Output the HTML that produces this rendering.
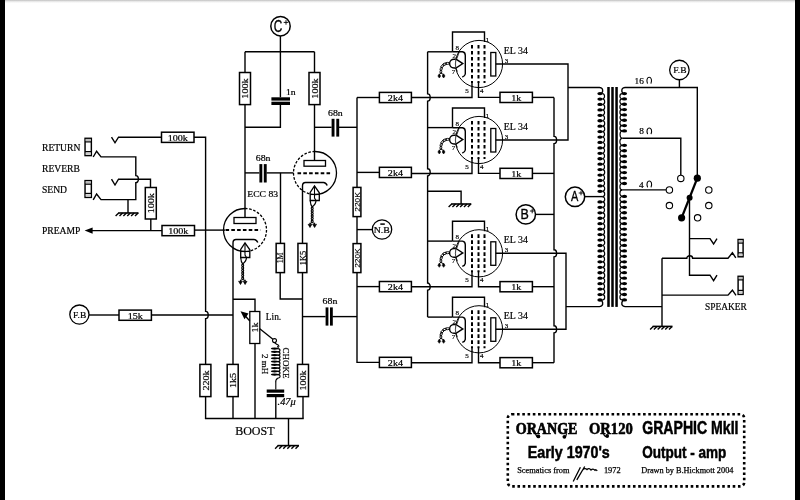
<!DOCTYPE html><html><head><meta charset="utf-8"><style>
html,body{margin:0;padding:0;background:#fff;}
body{width:800px;height:500px;overflow:hidden;position:relative;}
svg{position:absolute;left:0;top:0;will-change:transform;}
</style></head><body>
<svg width="800" height="500" viewBox="0 0 800 500">
<defs><linearGradient id="tg" x1="0" y1="0" x2="0" y2="1"><stop offset="0" stop-color="#bbb"/><stop offset="0.35" stop-color="#e2e2e2"/><stop offset="1" stop-color="#fff"/></linearGradient></defs>
<rect x="0" y="0" width="800" height="500" fill="#fff"/>
<rect x="0" y="0" width="800" height="3" fill="url(#tg)"/>
<rect x="0" y="0" width="5" height="500" fill="#000"/>
<rect x="795" y="0" width="5" height="500" fill="#000"/>
<g fill="none" stroke="#000" stroke-linecap="butt" stroke-linejoin="miter">

<rect x="85.05" y="138.30" width="6.30" height="17.30" stroke-width="1.45" fill="#fff"/>
<rect x="85.64999999999999" y="138.9" width="5.1" height="2.4" fill="#bbb" stroke="none"/>
<rect x="85.64999999999999" y="152.4" width="5.1" height="2.4" fill="#ccc" stroke="none"/>
<path d="M85.05,141.90 L91.35,141.90" stroke-width="1.2" />
<path d="M85.05,151.60 L91.35,151.60" stroke-width="1.2" />
<rect x="85.05" y="180.60" width="6.30" height="16.80" stroke-width="1.45" fill="#fff"/>
<rect x="85.64999999999999" y="181.2" width="5.1" height="2.4" fill="#bbb" stroke="none"/>
<rect x="85.64999999999999" y="194.20000000000002" width="5.1" height="2.4" fill="#ccc" stroke="none"/>
<path d="M85.05,184.20 L91.35,184.20" stroke-width="1.2" />
<path d="M85.05,193.40 L91.35,193.40" stroke-width="1.2" />
<path d="M93.2,157 L96.6,151.2 L101,156.9 L135.8,156.9 L135.8,175.6 A2.6,3.6 0 0 1 135.8,182.8 L135.8,199.6 L101,199.6 L96.6,194 L93.2,199.8" stroke-width="1.4" />
<path d="M111.5,137.2 L115,142.8 L118.5,137.2 L161.5,137.2" stroke-width="1.4" />
<rect x="161.50" y="132.20" width="32.50" height="10.20" stroke-width="1.5" fill="#fff"/>
<text x="0" y="0" stroke="#000" stroke-width="0.2" fill="#000" font-size="8.8" text-anchor="middle" font-family="Liberation Serif" transform="translate(177.75 140.60) scale(1.15,1)">100k</text>
<path d="M194,137.2 L205.6,137.2 L205.6,311.4 A2.6,3.6 0 0 1 205.6,318.6 L205.6,418.5" stroke-width="1.4" />
<path d="M111.5,179.2 L115,185 L118.5,179.2 L150.5,179.2 L150.5,187.5" stroke-width="1.4" />
<rect x="145.30" y="187.50" width="11.00" height="31.50" stroke-width="1.5" fill="#fff"/>
<text x="0" y="0" stroke="#000" stroke-width="0.2" fill="#000" font-size="8.8" text-anchor="middle" font-family="Liberation Serif" transform="translate(153.97 203.25) rotate(-90) scale(1.15,1)">100k</text>
<path d="M150.8,219 L150.8,230.6" stroke-width="1.4" />
<path d="M128,199.6 L128,213" stroke-width="1.4" />
<path d="M118.10,213.00 L138.50,213.00" stroke-width="1.6" />
<path d="M118.70,213.00 L115.60,216.10" stroke-width="1.4" />
<path d="M122.58,213.00 L119.48,216.10" stroke-width="1.4" />
<path d="M126.46,213.00 L123.36,216.10" stroke-width="1.4" />
<path d="M130.34,213.00 L127.24,216.10" stroke-width="1.4" />
<path d="M134.22,213.00 L131.12,216.10" stroke-width="1.4" />
<path d="M138.10,213.00 L135.00,216.10" stroke-width="1.4" />
<path d="M84.6,230.6 L92.6,227.4 L92.6,233.8 Z" fill="#000" stroke="none"/>
<path d="M92,230.6 L162,230.6" stroke-width="1.4" />
<rect x="162.00" y="225.50" width="32.50" height="10.20" stroke-width="1.5" fill="#fff"/>
<text x="0" y="0" stroke="#000" stroke-width="0.2" fill="#000" font-size="8.8" text-anchor="middle" font-family="Liberation Serif" transform="translate(178.25 233.90) scale(1.15,1)">100k</text>
<path d="M194.5,230.1 L225,230.1" stroke-width="1.4" />
<text x="0" y="0" stroke="#000" stroke-width="0.2" fill="#000" font-size="9.6" text-anchor="start" font-family="Liberation Serif" font-weight="normal" transform="translate(42.00 150.80)" >RETURN</text>
<text x="0" y="0" stroke="#000" stroke-width="0.2" fill="#000" font-size="9.6" text-anchor="start" font-family="Liberation Serif" font-weight="normal" transform="translate(42.00 171.60)" >REVERB</text>
<text x="0" y="0" stroke="#000" stroke-width="0.2" fill="#000" font-size="9.6" text-anchor="start" font-family="Liberation Serif" font-weight="normal" transform="translate(42.00 192.70)" >SEND</text>
<text x="0" y="0" stroke="#000" stroke-width="0.2" fill="#000" font-size="9.6" text-anchor="start" font-family="Liberation Serif" font-weight="normal" transform="translate(42.00 234.40)" >PREAMP</text>
<circle cx="280.50" cy="26.20" r="9.70" stroke-width="1.5" fill="#fff"/>
<text x="0" y="0" stroke="#000" stroke-width="0.35" fill="#000" font-size="16" font-family="Liberation Sans" text-anchor="middle" transform="translate(277.9 31.5) scale(0.74,1)">C</text>
<path d="M283.7,22.4 L288.3,22.4 M286,20.099999999999998 L286,24.7" stroke-width="0.9" />
<path d="M280.4,36 L280.4,97.3" stroke-width="1.4" />
<path d="M245,51.8 L314.5,51.8" stroke-width="1.4" />
<path d="M245,51.8 L245,72.5" stroke-width="1.4" />
<rect x="239.50" y="72.50" width="11.00" height="32.10" stroke-width="1.5" fill="#fff"/>
<text x="0" y="0" stroke="#000" stroke-width="0.2" fill="#000" font-size="8.8" text-anchor="middle" font-family="Liberation Serif" transform="translate(248.17 88.55) rotate(-90) scale(1.15,1)">100k</text>
<path d="M245,104.6 L245,217.5" stroke-width="1.4" />
<path d="M314.5,51.8 L314.5,72.5" stroke-width="1.4" />
<rect x="309.00" y="72.50" width="11.00" height="32.10" stroke-width="1.5" fill="#fff"/>
<text x="0" y="0" stroke="#000" stroke-width="0.2" fill="#000" font-size="8.8" text-anchor="middle" font-family="Liberation Serif" transform="translate(317.67 88.55) rotate(-90) scale(1.15,1)">100k</text>
<path d="M314.5,104.6 L314.5,160.5" stroke-width="1.4" />
<rect x="271.4" y="97.3" width="18.6" height="3.3" fill="#000" stroke="none"/>
<rect x="271.4" y="101.7" width="18.6" height="3.3" fill="#000" stroke="none"/>
<path d="M280.4,105 L280.4,127.3 L245,127.3" stroke-width="1.4" />
<text x="0" y="0" stroke="#000" stroke-width="0.2" fill="#000" font-size="8.8" text-anchor="start" font-family="Liberation Serif" font-weight="normal" transform="translate(286.00 95.00) scale(1.1,1)" >1n</text>
<path d="M314.5,127.3 L331.6,127.3" stroke-width="1.4" />
<rect x="331.6" y="118.8" width="2.9" height="17.8" fill="#000" stroke="none"/>
<rect x="336.3" y="118.8" width="2.9" height="17.8" fill="#000" stroke="none"/>
<path d="M338.9,127.3 L357,127.3" stroke-width="1.4" />
<text x="0" y="0" stroke="#000" stroke-width="0.2" fill="#000" font-size="8.8" text-anchor="middle" font-family="Liberation Serif" font-weight="normal" transform="translate(335.40 115.60) scale(1.12,1)" >68n</text>
<path d="M245,172.9 L259.4,172.9" stroke-width="1.4" />
<rect x="259.4" y="164.1" width="2.9" height="18.4" fill="#000" stroke="none"/>
<rect x="263.8" y="164.1" width="2.9" height="18.4" fill="#000" stroke="none"/>
<path d="M266.5,172.9 L293.5,172.9" stroke-width="1.4" />
<text x="0" y="0" stroke="#000" stroke-width="0.2" fill="#000" font-size="8.8" text-anchor="middle" font-family="Liberation Serif" font-weight="normal" transform="translate(263.10 161.00) scale(1.12,1)" >68n</text>
<text x="0" y="0" stroke="#000" stroke-width="0.2" fill="#000" font-size="9" text-anchor="start" font-family="Liberation Serif" font-weight="normal" transform="translate(247.30 196.50) scale(1.07,1)" >ECC 83</text>
<path d="M280.5,172.9 L280.5,243.4" stroke-width="1.4" />
<rect x="276.15" y="243.40" width="8.30" height="29.20" stroke-width="1.5" fill="#fff"/>
<text x="0" y="0" stroke="#000" stroke-width="0.2" fill="#000" font-size="8.6" text-anchor="middle" font-family="Liberation Serif" transform="translate(283.40 258.00) rotate(-90) scale(0.9,1)">1M</text>
<path d="M280.2,272.6 L280.2,299 L302.6,299" stroke-width="1.4" />
<path d="M245,208.5 A21.5,21.5 0 0 0 245,251.5" stroke-width="1.3" />
<path d="M245,208.5 A21.5,21.5 0 0 1 245,251.5" stroke-width="1.3" stroke-dasharray="2.6,1.6"/>
<path d="M315,151.5 A21.5,21.5 0 0 1 315,194.5" stroke-width="1.3" />
<path d="M315,151.5 A21.5,21.5 0 0 0 315,194.5" stroke-width="1.3" stroke-dasharray="2.6,1.6"/>
<rect x="234.00" y="217.50" width="22.00" height="6.00" stroke-width="1.3" fill="#fff"/>
<path d="M225.5,229.9 L260.5,229.9" stroke-width="2.0" stroke-dasharray="3.6,2.2"/>
<path d="M257.8,242.6 Q256.5,239.5 254,239.5 L236,239.5 Q233,239.5 233,243 L233,418.5" stroke-width="1.4" />
<rect x="304.00" y="160.50" width="21.50" height="5.70" stroke-width="1.3" fill="#fff"/>
<path d="M297.5,173.2 L331,173.2" stroke-width="2.0" stroke-dasharray="3.6,2.2"/>
<path d="M327.2,185.6 Q326,182.5 323.5,182.5 L305.5,182.5 Q302.5,182.5 302.5,186 L302.5,243.4" stroke-width="1.4" />
<rect x="297.95" y="243.40" width="8.90" height="29.20" stroke-width="1.5" fill="#fff"/>
<text x="0" y="0" stroke="#000" stroke-width="0.2" fill="#000" font-size="8.6" text-anchor="middle" font-family="Liberation Serif" transform="translate(305.50 258.00) rotate(-90) scale(0.97,1)">1K5</text>
<path d="M302.5,272.6 L302.5,364.4" stroke-width="1.4" />
<rect x="297.50" y="364.40" width="11.00" height="32.20" stroke-width="1.5" fill="#fff"/>
<text x="0" y="0" stroke="#000" stroke-width="0.2" fill="#000" font-size="8.8" text-anchor="middle" font-family="Liberation Serif" transform="translate(306.17 380.50) rotate(-90) scale(1.15,1)">100k</text>
<path d="M303,396.6 L303,418.5" stroke-width="1.4" />
<path d="M240.7,257.5 L240.7,249.5 L245,243 L249.8,249.8 L249.8,257.5 Z" stroke-width="1.3" />
<path d="M245,243.5 L245,255 L246.5,257.5" stroke-width="1.1" />
<path d="M240.7,251.5 L249.8,251.5" stroke-width="1.1" />
<path d="M240.7,257.5 Q241,262 242.7,264 Q246.5,261 246.5,257.5" stroke-width="1.2" />
<path d="M242.7,264 Q240.7,265.29 242.7,266.58 Q240.7,267.88 242.7,269.17 Q240.7,270.46 242.7,271.75 Q240.7,273.04 242.7,274.33 Q240.7,275.62 242.7,276.92 Q240.7,278.21 242.7,279.50" stroke-width="1.1" />
<path d="M242.7,264 Q244.7,265.29 242.7,266.58 Q244.7,267.88 242.7,269.17 Q244.7,270.46 242.7,271.75 Q244.7,273.04 242.7,274.33 Q244.7,275.62 242.7,276.92 Q244.7,278.21 242.7,279.50" stroke-width="1.1" />
<path d="M240.50,284.5 L238.60,281.2 L239.90,281.8 L240.50,279.8 L241.10,281.8 L242.40,281.2 Z" fill="#000" stroke="#000" stroke-width="0.7"/>
<path d="M245.10,284.5 L243.20,281.2 L244.50,281.8 L245.10,279.8 L245.70,281.8 L247.00,281.2 Z" fill="#000" stroke="#000" stroke-width="0.7"/>
<path d="M242.7,279.5 L240.5,280.5 M242.7,279.5 L245.1,280.5" stroke-width="1.0" />
<path d="M310.2,200.5 L310.2,192.5 L314.5,186 L319.3,192.8 L319.3,200.5 Z" stroke-width="1.3" />
<path d="M314.5,186.5 L314.5,198 L316.0,200.5" stroke-width="1.1" />
<path d="M310.2,194.5 L319.3,194.5" stroke-width="1.1" />
<path d="M310.2,200.5 Q310.5,205 312.2,207 Q316.0,204 316.0,200.5" stroke-width="1.2" />
<path d="M312.2,207 Q310.2,208.29 312.2,209.58 Q310.2,210.88 312.2,212.17 Q310.2,213.46 312.2,214.75 Q310.2,216.04 312.2,217.33 Q310.2,218.62 312.2,219.92 Q310.2,221.21 312.2,222.50" stroke-width="1.1" />
<path d="M312.2,207 Q314.2,208.29 312.2,209.58 Q314.2,210.88 312.2,212.17 Q314.2,213.46 312.2,214.75 Q314.2,216.04 312.2,217.33 Q314.2,218.62 312.2,219.92 Q314.2,221.21 312.2,222.50" stroke-width="1.1" />
<path d="M310.00,227.5 L308.10,224.2 L309.40,224.8 L310.00,222.8 L310.60,224.8 L311.90,224.2 Z" fill="#000" stroke="#000" stroke-width="0.7"/>
<path d="M314.60,227.5 L312.70,224.2 L314.00,224.8 L314.60,222.8 L315.20,224.8 L316.50,224.2 Z" fill="#000" stroke="#000" stroke-width="0.7"/>
<path d="M312.2,222.5 L310.0,223.5 M312.2,222.5 L314.6,223.5" stroke-width="1.0" />
<circle cx="79.40" cy="314.60" r="9.60" stroke-width="1.3" fill="#fff"/>
<text x="0" y="0" stroke="#000" stroke-width="0.2" fill="#000" font-size="8.8" text-anchor="middle" font-family="Liberation Serif" font-weight="normal" transform="translate(79.60 317.60) scale(1.08,1)" >F.B</text>
<path d="M89,315 L119,315" stroke-width="1.4" />
<rect x="119.00" y="310.10" width="32.40" height="10.20" stroke-width="1.5" fill="#fff"/>
<text x="0" y="0" stroke="#000" stroke-width="0.2" fill="#000" font-size="8.8" text-anchor="middle" font-family="Liberation Serif" transform="translate(135.20 318.50) scale(1.15,1)">15k</text>
<path d="M151.4,315 L233,315" stroke-width="1.4" />
<path d="M233,299.2 L255,299.2 L255,311.5" stroke-width="1.4" />
<rect x="249.80" y="311.50" width="10.00" height="32.00" stroke-width="1.3" fill="#fff"/>
<text x="0" y="0" stroke="#000" stroke-width="0.2" fill="#000" font-size="8.8" text-anchor="middle" font-family="Liberation Serif" transform="translate(258.1 327.5) rotate(-90) scale(1.15,1)">1k</text>
<path d="M255,343.5 L255,418.5" stroke-width="1.4" />
<path d="M249.8,321 L244,314.5" stroke-width="1.3" />
<path d="M240.5,311.2 L248.5,313.6 L244.5,319.3 Z" fill="#000" stroke="none"/>
<path d="M259.8,328.7 L272.9,339.3" stroke-width="1.3" />
<circle cx="274.50" cy="340.60" r="2.00" stroke-width="1.1" fill="#fff"/>
<text x="0" y="0" stroke="#000" stroke-width="0.2" fill="#000" font-size="9.4" text-anchor="start" font-family="Liberation Serif" font-weight="normal" transform="translate(265.80 319.50)" >Lin.</text>
<path d="M274.6,342.6 Q276,344 278.5,345.2 L279,346.8 M277.4,348.60 A2.6,1.62 0 0 1 277.4,351.85 M277.4,351.85 A2.6,1.62 0 0 1 277.4,355.10 M277.4,355.10 A2.6,1.62 0 0 1 277.4,358.35 M277.4,358.35 A2.6,1.62 0 0 1 277.4,361.60 M277.4,361.60 A2.6,1.62 0 0 1 277.4,364.85 M277.4,364.85 A2.6,1.62 0 0 1 277.4,368.10 M277.4,368.10 A2.6,1.62 0 0 1 277.4,371.35 M277.4,371.35 A2.6,1.62 0 0 1 277.4,374.60 " stroke-width="1.1" />
<path d="M277.2,346.2 A2.4,1.5 0 0 1 277.4,348.6" stroke-width="1.1" />
<ellipse cx="274.6" cy="348.60" rx="3.7" ry="1.15" fill="#000" stroke="none"/>
<ellipse cx="274.6" cy="351.85" rx="3.7" ry="1.15" fill="#000" stroke="none"/>
<ellipse cx="274.6" cy="355.10" rx="3.7" ry="1.15" fill="#000" stroke="none"/>
<ellipse cx="274.6" cy="358.35" rx="3.7" ry="1.15" fill="#000" stroke="none"/>
<ellipse cx="274.6" cy="361.60" rx="3.7" ry="1.15" fill="#000" stroke="none"/>
<ellipse cx="274.6" cy="364.85" rx="3.7" ry="1.15" fill="#000" stroke="none"/>
<ellipse cx="274.6" cy="368.10" rx="3.7" ry="1.15" fill="#000" stroke="none"/>
<ellipse cx="274.6" cy="371.35" rx="3.7" ry="1.15" fill="#000" stroke="none"/>
<ellipse cx="274.6" cy="374.60" rx="3.7" ry="1.15" fill="#000" stroke="none"/>
<path d="M277.4,374.6 A2.6,1.8 0 0 1 277.6,378.2 Q275.2,380 275.8,383 L275.8,389.6" stroke-width="1.1" />
<rect x="266.7" y="389.5" width="17.5" height="3.2" fill="#000" stroke="none"/>
<rect x="266.7" y="394" width="17.5" height="3.2" fill="#000" stroke="none"/>
<path d="M275.8,397 L275.8,418.5" stroke-width="1.4" />
<text x="0" y="0" stroke="#000" stroke-width="0.2" fill="#000" font-size="9" text-anchor="middle" font-family="Liberation Serif" transform="translate(283.3 363) rotate(90)">CHOKE</text>
<text x="0" y="0" stroke="#000" stroke-width="0.2" fill="#000" font-size="9" text-anchor="middle" font-family="Liberation Serif" transform="translate(262 364) rotate(90)">2 mH</text>
<text x="0" y="0" fill="#000" font-size="9.6" text-anchor="start" font-family="Liberation Serif" font-weight="normal" transform="translate(277.60 405.40) scale(1.08,1)" font-style="italic" stroke="#000" stroke-width="0.2">.47&#956;</text>
<path d="M205.6,364.4 L205.6,364.4" stroke-width="1.4" />
<rect x="199.90" y="364.40" width="11.00" height="32.20" stroke-width="1.5" fill="#fff"/>
<text x="0" y="0" stroke="#000" stroke-width="0.2" fill="#000" font-size="8.8" text-anchor="middle" font-family="Liberation Serif" transform="translate(208.57 380.50) rotate(-90) scale(1.15,1)">220k</text>
<rect x="227.20" y="364.40" width="11.00" height="32.20" stroke-width="1.5" fill="#fff"/>
<text x="0" y="0" stroke="#000" stroke-width="0.2" fill="#000" font-size="8.8" text-anchor="middle" font-family="Liberation Serif" transform="translate(235.87 380.50) rotate(-90) scale(1.15,1)">1k5</text>
<path d="M204.9,418.5 L303.7,418.5" stroke-width="1.4" />
<path d="M288.5,418.5 L288.5,445.6" stroke-width="1.4" />
<path d="M277.60,445.60 L299.00,445.60" stroke-width="1.6" />
<path d="M278.20,445.60 L275.10,448.70" stroke-width="1.4" />
<path d="M282.28,445.60 L279.18,448.70" stroke-width="1.4" />
<path d="M286.36,445.60 L283.26,448.70" stroke-width="1.4" />
<path d="M290.44,445.60 L287.34,448.70" stroke-width="1.4" />
<path d="M294.52,445.60 L291.42,448.70" stroke-width="1.4" />
<path d="M298.60,445.60 L295.50,448.70" stroke-width="1.4" />
<text x="0" y="0" stroke="#000" stroke-width="0.2" fill="#000" font-size="12" text-anchor="start" font-family="Liberation Serif" font-weight="normal" transform="translate(235.20 434.80)" >BOOST</text>
<path d="M357,97.5 L357,187.4" stroke-width="1.4" />
<rect x="353.10" y="187.40" width="7.80" height="29.20" stroke-width="1.5" fill="#fff"/>
<text x="0" y="0" stroke="#000" stroke-width="0.1" fill="#000" font-size="7.2" text-anchor="middle" font-family="Liberation Sans" transform="translate(359.60 202.00) rotate(-90) scale(1.16,1)">220K</text>
<path d="M357,216.6 L357,243.6" stroke-width="1.4" />
<rect x="353.10" y="243.60" width="7.80" height="29.00" stroke-width="1.5" fill="#fff"/>
<text x="0" y="0" stroke="#000" stroke-width="0.1" fill="#000" font-size="7.2" text-anchor="middle" font-family="Liberation Sans" transform="translate(359.60 258.10) rotate(-90) scale(1.16,1)">220K</text>
<path d="M357,272.6 L357,362.4 L379.4,362.4" stroke-width="1.4" />
<path d="M357,97.5 L379.4,97.5" stroke-width="1.4" />
<path d="M357,172.4 L379.4,172.4" stroke-width="1.4" />
<path d="M357,286.6 L379.4,286.6" stroke-width="1.4" />
<path d="M332.4,316.6 L357,316.6" stroke-width="1.4" />
<path d="M302.5,316.6 L325.6,316.6" stroke-width="1.4" />
<rect x="325.6" y="307.4" width="2.8" height="18.2" fill="#000" stroke="none"/>
<rect x="330" y="307.4" width="2.8" height="18.2" fill="#000" stroke="none"/>
<text x="0" y="0" stroke="#000" stroke-width="0.2" fill="#000" font-size="8.8" text-anchor="middle" font-family="Liberation Serif" font-weight="normal" transform="translate(330.00 304.40) scale(1.12,1)" >68n</text>
<path d="M357,229.6 L372.4,229.6" stroke-width="1.4" />
<circle cx="382.00" cy="229.50" r="9.70" stroke-width="1.3" fill="#fff"/>
<text x="0" y="0" stroke="#000" stroke-width="0.2" fill="#000" font-size="8.6" text-anchor="middle" font-family="Liberation Serif" font-weight="normal" transform="translate(381.80 232.80) scale(1.15,1)" >N.B</text>
<path d="M380.3,224.1 L384.8,224.1" stroke-width="1.5" />
<rect x="379.40" y="92.40" width="32.00" height="10.20" stroke-width="1.5" fill="#fff"/>
<text x="0" y="0" stroke="#000" stroke-width="0.2" fill="#000" font-size="8.8" text-anchor="middle" font-family="Liberation Serif" transform="translate(395.40 100.80) scale(1.15,1)">2k4</text>
<rect x="379.40" y="167.30" width="32.00" height="10.20" stroke-width="1.5" fill="#fff"/>
<text x="0" y="0" stroke="#000" stroke-width="0.2" fill="#000" font-size="8.8" text-anchor="middle" font-family="Liberation Serif" transform="translate(395.40 175.70) scale(1.15,1)">2k4</text>
<rect x="379.40" y="281.50" width="32.00" height="10.20" stroke-width="1.5" fill="#fff"/>
<text x="0" y="0" stroke="#000" stroke-width="0.2" fill="#000" font-size="8.8" text-anchor="middle" font-family="Liberation Serif" transform="translate(395.40 289.90) scale(1.15,1)">2k4</text>
<rect x="379.40" y="357.30" width="32.00" height="10.20" stroke-width="1.5" fill="#fff"/>
<text x="0" y="0" stroke="#000" stroke-width="0.2" fill="#000" font-size="8.8" text-anchor="middle" font-family="Liberation Serif" transform="translate(395.40 365.70) scale(1.15,1)">2k4</text>
<circle cx="479.00" cy="64.00" r="23.60" stroke-width="1.0" fill="none"/>
<path d="M484.5,42 L484.5,32 L452.5,32 L452.5,51.8" stroke-width="1.4" />
<path d="M452.5,51.8 L462.5,51.8 Q465.3,52.2 465.3,55.5 L465.3,74 Q465,76 462.3,77" stroke-width="1.4" />
<path d="M472,45 L472,83" stroke-width="2.0" stroke-dasharray="3.6,2.4"/>
<path d="M478.5,45 L478.5,83" stroke-width="2.0" stroke-dasharray="3.6,2.4"/>
<path d="M484.5,45 L484.5,83" stroke-width="2.0" stroke-dasharray="3.6,2.4"/>
<path d="M472,82 L472,97.5 L411.4,97.5" stroke-width="1.4" />
<path d="M478.5,82 L478.5,97.4 L500,97.4" stroke-width="1.4" />
<rect x="490.80" y="52.50" width="5.00" height="23.50" stroke-width="1.3" fill="#fff"/>
<path d="M456,59.2 L462.8,63.6 L456,68 L454,68 A4.4,4.4 0 0 1 454,59.2 Z" stroke-width="1.4" />
<path d="M455.6,59.4 L455.6,67.8" stroke-width="0.7" stroke="#777"/>
<path d="M456.8,58.8 L459.2,52" stroke-width="0.8" />
<path d="M456,68.2 L457.4,71.5" stroke-width="0.8" />
<ellipse cx="0" cy="0" rx="2.0" ry="1.0" stroke-width="0.9" transform="translate(447.4 63.4) rotate(-5)"/>
<ellipse cx="0" cy="0" rx="2.0" ry="1.0" stroke-width="0.9" transform="translate(444.6 64.2) rotate(-20)"/>
<ellipse cx="0" cy="0" rx="1.9" ry="1.0" stroke-width="0.9" transform="translate(442.3 66.2) rotate(-45)"/>
<ellipse cx="0" cy="0" rx="1.8" ry="0.95" stroke-width="0.9" transform="translate(441.2 68.9) rotate(-70)"/>
<ellipse cx="0" cy="0" rx="1.7" ry="0.9" stroke-width="0.9" transform="translate(440.9 71.7) rotate(-85)"/>
<path d="M440.9,73 L439.3,74.5 M440.9,73 L443.4,74.5" stroke-width="1.0" />
<path d="M439.3,73.8 L437.9,76 L439.3,78 L440.6,76 Z" fill="#000" stroke="#000" stroke-width="0.6"/>
<path d="M443.6,73.8 L442.2,76 L443.6,78 L445,76 Z" fill="#000" stroke="#000" stroke-width="0.6"/>
<text x="0" y="0" stroke="#000" stroke-width="0.2" fill="#000" font-size="7" text-anchor="middle" font-family="Liberation Serif" font-weight="normal" transform="translate(487.50 41.50)" >1</text>
<text x="0" y="0" stroke="#000" stroke-width="0.2" fill="#000" font-size="7" text-anchor="middle" font-family="Liberation Serif" font-weight="normal" transform="translate(457.20 49.80)" >8</text>
<text x="0" y="0" stroke="#000" stroke-width="0.2" fill="#000" font-size="7" text-anchor="middle" font-family="Liberation Serif" font-weight="normal" transform="translate(454.20 58.20)" >2</text>
<text x="0" y="0" stroke="#000" stroke-width="0.2" fill="#000" font-size="7" text-anchor="middle" font-family="Liberation Serif" font-weight="normal" transform="translate(453.40 73.80)" >7</text>
<text x="0" y="0" stroke="#000" stroke-width="0.2" fill="#000" font-size="7" text-anchor="middle" font-family="Liberation Serif" font-weight="normal" transform="translate(506.50 62.50)" >3</text>
<text x="0" y="0" stroke="#000" stroke-width="0.2" fill="#000" font-size="7" text-anchor="middle" font-family="Liberation Serif" font-weight="normal" transform="translate(467.00 92.50)" >5</text>
<text x="0" y="0" stroke="#000" stroke-width="0.2" fill="#000" font-size="7" text-anchor="middle" font-family="Liberation Serif" font-weight="normal" transform="translate(481.80 93.00)" >4</text>
<text x="0" y="0" stroke="#000" stroke-width="0.2" fill="#000" font-size="9.9" text-anchor="start" font-family="Liberation Serif" font-weight="normal" transform="translate(503.80 53.60)" >EL 34</text>
<rect x="500.00" y="92.30" width="32.40" height="10.20" stroke-width="1.5" fill="#fff"/>
<text x="0" y="0" stroke="#000" stroke-width="0.2" fill="#000" font-size="8.8" text-anchor="middle" font-family="Liberation Serif" transform="translate(516.20 100.70) scale(1.15,1)">1k</text>
<path d="M532.4,97.4 L554,97.4" stroke-width="1.4" />
<circle cx="479.00" cy="140.00" r="23.60" stroke-width="1.0" fill="none"/>
<path d="M484.5,118 L484.5,108 L452.5,108 L452.5,127.8" stroke-width="1.4" />
<path d="M452.5,127.8 L462.5,127.8 Q465.3,128.2 465.3,131.5 L465.3,150 Q465,152 462.3,153" stroke-width="1.4" />
<path d="M472,121 L472,159" stroke-width="2.0" stroke-dasharray="3.6,2.4"/>
<path d="M478.5,121 L478.5,159" stroke-width="2.0" stroke-dasharray="3.6,2.4"/>
<path d="M484.5,121 L484.5,159" stroke-width="2.0" stroke-dasharray="3.6,2.4"/>
<path d="M472,158 L472,173.5 L411.4,173.5" stroke-width="1.4" />
<path d="M478.5,158 L478.5,173.4 L500,173.4" stroke-width="1.4" />
<rect x="490.80" y="128.50" width="5.00" height="23.50" stroke-width="1.3" fill="#fff"/>
<path d="M456,135.2 L462.8,139.6 L456,144 L454,144 A4.4,4.4 0 0 1 454,135.2 Z" stroke-width="1.4" />
<path d="M455.6,135.4 L455.6,143.8" stroke-width="0.7" stroke="#777"/>
<path d="M456.8,134.8 L459.2,128" stroke-width="0.8" />
<path d="M456,144.2 L457.4,147.5" stroke-width="0.8" />
<ellipse cx="0" cy="0" rx="2.0" ry="1.0" stroke-width="0.9" transform="translate(447.4 139.4) rotate(-5)"/>
<ellipse cx="0" cy="0" rx="2.0" ry="1.0" stroke-width="0.9" transform="translate(444.6 140.2) rotate(-20)"/>
<ellipse cx="0" cy="0" rx="1.9" ry="1.0" stroke-width="0.9" transform="translate(442.3 142.2) rotate(-45)"/>
<ellipse cx="0" cy="0" rx="1.8" ry="0.95" stroke-width="0.9" transform="translate(441.2 144.9) rotate(-70)"/>
<ellipse cx="0" cy="0" rx="1.7" ry="0.9" stroke-width="0.9" transform="translate(440.9 147.7) rotate(-85)"/>
<path d="M440.9,149 L439.3,150.5 M440.9,149 L443.4,150.5" stroke-width="1.0" />
<path d="M439.3,149.8 L437.9,152 L439.3,154 L440.6,152 Z" fill="#000" stroke="#000" stroke-width="0.6"/>
<path d="M443.6,149.8 L442.2,152 L443.6,154 L445,152 Z" fill="#000" stroke="#000" stroke-width="0.6"/>
<text x="0" y="0" stroke="#000" stroke-width="0.2" fill="#000" font-size="7" text-anchor="middle" font-family="Liberation Serif" font-weight="normal" transform="translate(487.50 117.50)" >1</text>
<text x="0" y="0" stroke="#000" stroke-width="0.2" fill="#000" font-size="7" text-anchor="middle" font-family="Liberation Serif" font-weight="normal" transform="translate(457.20 125.80)" >8</text>
<text x="0" y="0" stroke="#000" stroke-width="0.2" fill="#000" font-size="7" text-anchor="middle" font-family="Liberation Serif" font-weight="normal" transform="translate(454.20 134.20)" >2</text>
<text x="0" y="0" stroke="#000" stroke-width="0.2" fill="#000" font-size="7" text-anchor="middle" font-family="Liberation Serif" font-weight="normal" transform="translate(453.40 149.80)" >7</text>
<text x="0" y="0" stroke="#000" stroke-width="0.2" fill="#000" font-size="7" text-anchor="middle" font-family="Liberation Serif" font-weight="normal" transform="translate(506.50 138.50)" >3</text>
<text x="0" y="0" stroke="#000" stroke-width="0.2" fill="#000" font-size="7" text-anchor="middle" font-family="Liberation Serif" font-weight="normal" transform="translate(467.00 168.50)" >5</text>
<text x="0" y="0" stroke="#000" stroke-width="0.2" fill="#000" font-size="7" text-anchor="middle" font-family="Liberation Serif" font-weight="normal" transform="translate(481.80 169.00)" >4</text>
<text x="0" y="0" stroke="#000" stroke-width="0.2" fill="#000" font-size="9.9" text-anchor="start" font-family="Liberation Serif" font-weight="normal" transform="translate(503.80 129.60)" >EL 34</text>
<rect x="500.00" y="168.30" width="32.40" height="10.20" stroke-width="1.5" fill="#fff"/>
<text x="0" y="0" stroke="#000" stroke-width="0.2" fill="#000" font-size="8.8" text-anchor="middle" font-family="Liberation Serif" transform="translate(516.20 176.70) scale(1.15,1)">1k</text>
<path d="M532.4,173.4 L554,173.4" stroke-width="1.4" />
<circle cx="479.00" cy="253.30" r="23.60" stroke-width="1.0" fill="none"/>
<path d="M484.5,231.3 L484.5,221.3 L452.5,221.3 L452.5,241.10000000000002" stroke-width="1.4" />
<path d="M452.5,241.10000000000002 L462.5,241.10000000000002 Q465.3,241.5 465.3,244.8 L465.3,263.3 Q465,265.3 462.3,266.3" stroke-width="1.4" />
<path d="M472,234.3 L472,272.3" stroke-width="2.0" stroke-dasharray="3.6,2.4"/>
<path d="M478.5,234.3 L478.5,272.3" stroke-width="2.0" stroke-dasharray="3.6,2.4"/>
<path d="M484.5,234.3 L484.5,272.3" stroke-width="2.0" stroke-dasharray="3.6,2.4"/>
<path d="M472,271.3 L472,286.8 L411.4,286.8" stroke-width="1.4" />
<path d="M478.5,271.3 L478.5,286.70000000000005 L500,286.70000000000005" stroke-width="1.4" />
<rect x="490.80" y="241.80" width="5.00" height="23.50" stroke-width="1.3" fill="#fff"/>
<path d="M456,248.5 L462.8,252.9 L456,257.3 L454,257.3 A4.4,4.4 0 0 1 454,248.5 Z" stroke-width="1.4" />
<path d="M455.6,248.70000000000002 L455.6,257.1" stroke-width="0.7" stroke="#777"/>
<path d="M456.8,248.10000000000002 L459.2,241.3" stroke-width="0.8" />
<path d="M456,257.5 L457.4,260.8" stroke-width="0.8" />
<ellipse cx="0" cy="0" rx="2.0" ry="1.0" stroke-width="0.9" transform="translate(447.4 252.70000000000002) rotate(-5)"/>
<ellipse cx="0" cy="0" rx="2.0" ry="1.0" stroke-width="0.9" transform="translate(444.6 253.5) rotate(-20)"/>
<ellipse cx="0" cy="0" rx="1.9" ry="1.0" stroke-width="0.9" transform="translate(442.3 255.5) rotate(-45)"/>
<ellipse cx="0" cy="0" rx="1.8" ry="0.95" stroke-width="0.9" transform="translate(441.2 258.20000000000005) rotate(-70)"/>
<ellipse cx="0" cy="0" rx="1.7" ry="0.9" stroke-width="0.9" transform="translate(440.9 261.0) rotate(-85)"/>
<path d="M440.9,262.3 L439.3,263.8 M440.9,262.3 L443.4,263.8" stroke-width="1.0" />
<path d="M439.3,263.1 L437.9,265.3 L439.3,267.3 L440.6,265.3 Z" fill="#000" stroke="#000" stroke-width="0.6"/>
<path d="M443.6,263.1 L442.2,265.3 L443.6,267.3 L445,265.3 Z" fill="#000" stroke="#000" stroke-width="0.6"/>
<text x="0" y="0" stroke="#000" stroke-width="0.2" fill="#000" font-size="7" text-anchor="middle" font-family="Liberation Serif" font-weight="normal" transform="translate(487.50 230.80)" >1</text>
<text x="0" y="0" stroke="#000" stroke-width="0.2" fill="#000" font-size="7" text-anchor="middle" font-family="Liberation Serif" font-weight="normal" transform="translate(457.20 239.10)" >8</text>
<text x="0" y="0" stroke="#000" stroke-width="0.2" fill="#000" font-size="7" text-anchor="middle" font-family="Liberation Serif" font-weight="normal" transform="translate(454.20 247.50)" >2</text>
<text x="0" y="0" stroke="#000" stroke-width="0.2" fill="#000" font-size="7" text-anchor="middle" font-family="Liberation Serif" font-weight="normal" transform="translate(453.40 263.10)" >7</text>
<text x="0" y="0" stroke="#000" stroke-width="0.2" fill="#000" font-size="7" text-anchor="middle" font-family="Liberation Serif" font-weight="normal" transform="translate(506.50 251.80)" >3</text>
<text x="0" y="0" stroke="#000" stroke-width="0.2" fill="#000" font-size="7" text-anchor="middle" font-family="Liberation Serif" font-weight="normal" transform="translate(467.00 281.80)" >5</text>
<text x="0" y="0" stroke="#000" stroke-width="0.2" fill="#000" font-size="7" text-anchor="middle" font-family="Liberation Serif" font-weight="normal" transform="translate(481.80 282.30)" >4</text>
<text x="0" y="0" stroke="#000" stroke-width="0.2" fill="#000" font-size="9.9" text-anchor="start" font-family="Liberation Serif" font-weight="normal" transform="translate(503.80 242.90)" >EL 34</text>
<rect x="500.00" y="281.60" width="32.40" height="10.20" stroke-width="1.5" fill="#fff"/>
<text x="0" y="0" stroke="#000" stroke-width="0.2" fill="#000" font-size="8.8" text-anchor="middle" font-family="Liberation Serif" transform="translate(516.20 290.00) scale(1.15,1)">1k</text>
<path d="M532.4,286.70000000000005 L554,286.70000000000005" stroke-width="1.4" />
<circle cx="479.00" cy="329.30" r="23.60" stroke-width="1.0" fill="none"/>
<path d="M484.5,307.3 L484.5,297.3 L452.5,297.3 L452.5,317.1" stroke-width="1.4" />
<path d="M452.5,317.1 L462.5,317.1 Q465.3,317.5 465.3,320.8 L465.3,339.3 Q465,341.3 462.3,342.3" stroke-width="1.4" />
<path d="M472,310.3 L472,348.3" stroke-width="2.0" stroke-dasharray="3.6,2.4"/>
<path d="M478.5,310.3 L478.5,348.3" stroke-width="2.0" stroke-dasharray="3.6,2.4"/>
<path d="M484.5,310.3 L484.5,348.3" stroke-width="2.0" stroke-dasharray="3.6,2.4"/>
<path d="M472,347.3 L472,362.8 L411.4,362.8" stroke-width="1.4" />
<path d="M478.5,347.3 L478.5,362.70000000000005 L500,362.70000000000005" stroke-width="1.4" />
<rect x="490.80" y="317.80" width="5.00" height="23.50" stroke-width="1.3" fill="#fff"/>
<path d="M456,324.5 L462.8,328.90000000000003 L456,333.3 L454,333.3 A4.4,4.4 0 0 1 454,324.5 Z" stroke-width="1.4" />
<path d="M455.6,324.7 L455.6,333.1" stroke-width="0.7" stroke="#777"/>
<path d="M456.8,324.1 L459.2,317.3" stroke-width="0.8" />
<path d="M456,333.5 L457.4,336.8" stroke-width="0.8" />
<ellipse cx="0" cy="0" rx="2.0" ry="1.0" stroke-width="0.9" transform="translate(447.4 328.7) rotate(-5)"/>
<ellipse cx="0" cy="0" rx="2.0" ry="1.0" stroke-width="0.9" transform="translate(444.6 329.5) rotate(-20)"/>
<ellipse cx="0" cy="0" rx="1.9" ry="1.0" stroke-width="0.9" transform="translate(442.3 331.5) rotate(-45)"/>
<ellipse cx="0" cy="0" rx="1.8" ry="0.95" stroke-width="0.9" transform="translate(441.2 334.20000000000005) rotate(-70)"/>
<ellipse cx="0" cy="0" rx="1.7" ry="0.9" stroke-width="0.9" transform="translate(440.9 337.0) rotate(-85)"/>
<path d="M440.9,338.3 L439.3,339.8 M440.9,338.3 L443.4,339.8" stroke-width="1.0" />
<path d="M439.3,339.1 L437.9,341.3 L439.3,343.3 L440.6,341.3 Z" fill="#000" stroke="#000" stroke-width="0.6"/>
<path d="M443.6,339.1 L442.2,341.3 L443.6,343.3 L445,341.3 Z" fill="#000" stroke="#000" stroke-width="0.6"/>
<text x="0" y="0" stroke="#000" stroke-width="0.2" fill="#000" font-size="7" text-anchor="middle" font-family="Liberation Serif" font-weight="normal" transform="translate(487.50 306.80)" >1</text>
<text x="0" y="0" stroke="#000" stroke-width="0.2" fill="#000" font-size="7" text-anchor="middle" font-family="Liberation Serif" font-weight="normal" transform="translate(457.20 315.10)" >8</text>
<text x="0" y="0" stroke="#000" stroke-width="0.2" fill="#000" font-size="7" text-anchor="middle" font-family="Liberation Serif" font-weight="normal" transform="translate(454.20 323.50)" >2</text>
<text x="0" y="0" stroke="#000" stroke-width="0.2" fill="#000" font-size="7" text-anchor="middle" font-family="Liberation Serif" font-weight="normal" transform="translate(453.40 339.10)" >7</text>
<text x="0" y="0" stroke="#000" stroke-width="0.2" fill="#000" font-size="7" text-anchor="middle" font-family="Liberation Serif" font-weight="normal" transform="translate(506.50 327.80)" >3</text>
<text x="0" y="0" stroke="#000" stroke-width="0.2" fill="#000" font-size="7" text-anchor="middle" font-family="Liberation Serif" font-weight="normal" transform="translate(467.00 357.80)" >5</text>
<text x="0" y="0" stroke="#000" stroke-width="0.2" fill="#000" font-size="7" text-anchor="middle" font-family="Liberation Serif" font-weight="normal" transform="translate(481.80 358.30)" >4</text>
<text x="0" y="0" stroke="#000" stroke-width="0.2" fill="#000" font-size="9.9" text-anchor="start" font-family="Liberation Serif" font-weight="normal" transform="translate(503.80 318.90)" >EL 34</text>
<rect x="500.00" y="357.60" width="32.40" height="10.20" stroke-width="1.5" fill="#fff"/>
<text x="0" y="0" stroke="#000" stroke-width="0.2" fill="#000" font-size="8.8" text-anchor="middle" font-family="Liberation Serif" transform="translate(516.20 366.00) scale(1.15,1)">1k</text>
<path d="M532.4,362.70000000000005 L554,362.70000000000005" stroke-width="1.4" />
<path d="M427.6,51.8 L452.5,51.8" stroke-width="1.4" />
<path d="M427.60,51.80 L427.60,93.90 A2.6,3.6 0 0 1 427.60,101.10 L427.60,168.80 A2.6,3.6 0 0 1 427.60,176.00 L427.60,283.00 A2.6,3.6 0 0 1 427.60,290.20 L427.60,317.10" stroke-width="1.4" />
<path d="M427.6,127.6 L452.5,127.6" stroke-width="1.4" />
<path d="M427.6,241.1 L452.5,241.1" stroke-width="1.4" />
<path d="M427.6,317.1 L452.5,317.1" stroke-width="1.4" />
<path d="M427.6,191.2 L461.1,191.2 L461.1,204" stroke-width="1.4" />
<path d="M451.10,204.00 L471.30,204.00" stroke-width="1.6" />
<path d="M451.70,204.00 L448.60,207.10" stroke-width="1.4" />
<path d="M455.54,204.00 L452.44,207.10" stroke-width="1.4" />
<path d="M459.38,204.00 L456.28,207.10" stroke-width="1.4" />
<path d="M463.22,204.00 L460.12,207.10" stroke-width="1.4" />
<path d="M467.06,204.00 L463.96,207.10" stroke-width="1.4" />
<path d="M470.90,204.00 L467.80,207.10" stroke-width="1.4" />
<path d="M554.00,97.40 L554.00,136.40 A2.6,3.6 0 0 1 554.00,143.60 L554.00,249.70 A2.6,3.6 0 0 1 554.00,256.90 L554.00,325.70 A2.6,3.6 0 0 1 554.00,332.90 L554.00,362.70" stroke-width="1.4" />
<circle cx="525.80" cy="214.40" r="9.70" stroke-width="1.5" fill="#fff"/>
<text x="0" y="0" stroke="#000" stroke-width="0.35" fill="#000" font-size="15.2" font-family="Liberation Sans" text-anchor="middle" transform="translate(524.7 219.4) scale(0.82,1)">B</text>
<path d="M529.9000000000001,211 L534.5,211 M532.2,208.7 L532.2,213.3" stroke-width="0.9" />
<path d="M535,214.4 L554,214.4" stroke-width="1.4" />
<path d="M495.8,64 L568,64 L568,140 L495.8,140" stroke-width="1.4" />
<path d="M495.8,253.3 L566,253.3 L566,329.3 L495.8,329.3" stroke-width="1.4" />
<path d="M568,87.5 L599.5,87.5 Q603.2,87.8 602.6,91.5 L601.5,93.6" stroke-width="1.4" />
<path d="M566,306.6 L599.5,306.6 Q603.2,306.3 602.6,302.5 L601.5,300" stroke-width="1.4" />
<rect x="607.25" y="87" width="2.5" height="219.9" fill="#000" stroke="none"/>
<rect x="611.25" y="87" width="2.5" height="219.9" fill="#000" stroke="none"/>
<rect x="615.3" y="87" width="2.5" height="219.9" fill="#000" stroke="none"/>
<path d="M602.3,93.60 A2.4,2.72 0 0 1 602.3,99.03 M602.3,99.03 A2.4,2.71 0 0 1 602.3,104.46 M602.3,104.46 A2.4,2.71 0 0 1 602.3,109.89 M602.3,109.89 A2.4,2.72 0 0 1 602.3,115.32 M602.3,115.32 A2.4,2.72 0 0 1 602.3,120.75 M602.3,120.75 A2.4,2.71 0 0 1 602.3,126.18 M602.3,126.18 A2.4,2.71 0 0 1 602.3,131.61 M602.3,131.61 A2.4,2.72 0 0 1 602.3,137.04 M602.3,137.04 A2.4,2.72 0 0 1 602.3,142.47 M602.3,142.47 A2.4,2.71 0 0 1 602.3,147.90 M602.3,147.90 A2.4,2.72 0 0 1 602.3,153.33 M602.3,153.33 A2.4,2.72 0 0 1 602.3,158.76 M602.3,158.76 A2.4,2.72 0 0 1 602.3,164.19 M602.3,164.19 A2.4,2.72 0 0 1 602.3,169.62 M602.3,169.62 A2.4,2.71 0 0 1 602.3,175.05 M602.3,175.05 A2.4,2.72 0 0 1 602.3,180.48 M602.3,180.48 A2.4,2.72 0 0 1 602.3,185.91 M602.3,185.91 A2.4,2.71 0 0 1 602.3,191.34 M602.3,191.34 A2.4,2.63 0 0 1 602.3,196.60 " stroke-width="1.15"/>
<ellipse cx="600.0" cy="93.60" rx="2.7" ry="1.65" fill="#000" stroke="none"/>
<ellipse cx="600.0" cy="99.03" rx="2.7" ry="1.65" fill="#000" stroke="none"/>
<ellipse cx="600.0" cy="104.46" rx="2.7" ry="1.65" fill="#000" stroke="none"/>
<ellipse cx="600.0" cy="109.89" rx="2.7" ry="1.65" fill="#000" stroke="none"/>
<ellipse cx="600.0" cy="115.32" rx="2.7" ry="1.65" fill="#000" stroke="none"/>
<ellipse cx="600.0" cy="120.75" rx="2.7" ry="1.65" fill="#000" stroke="none"/>
<ellipse cx="600.0" cy="126.18" rx="2.7" ry="1.65" fill="#000" stroke="none"/>
<ellipse cx="600.0" cy="131.61" rx="2.7" ry="1.65" fill="#000" stroke="none"/>
<ellipse cx="600.0" cy="137.04" rx="2.7" ry="1.65" fill="#000" stroke="none"/>
<ellipse cx="600.0" cy="142.47" rx="2.7" ry="1.65" fill="#000" stroke="none"/>
<ellipse cx="600.0" cy="147.90" rx="2.7" ry="1.65" fill="#000" stroke="none"/>
<ellipse cx="600.0" cy="153.33" rx="2.7" ry="1.65" fill="#000" stroke="none"/>
<ellipse cx="600.0" cy="158.76" rx="2.7" ry="1.65" fill="#000" stroke="none"/>
<ellipse cx="600.0" cy="164.19" rx="2.7" ry="1.65" fill="#000" stroke="none"/>
<ellipse cx="600.0" cy="169.62" rx="2.7" ry="1.65" fill="#000" stroke="none"/>
<ellipse cx="600.0" cy="175.05" rx="2.7" ry="1.65" fill="#000" stroke="none"/>
<ellipse cx="600.0" cy="180.48" rx="2.7" ry="1.65" fill="#000" stroke="none"/>
<ellipse cx="600.0" cy="185.91" rx="2.7" ry="1.65" fill="#000" stroke="none"/>
<ellipse cx="600.0" cy="191.34" rx="2.7" ry="1.65" fill="#000" stroke="none"/>
<path d="M602.3,196.60 A2.4,2.65 0 0 1 602.3,201.90 M602.3,201.90 A2.4,2.72 0 0 1 602.3,207.35 M602.3,207.35 A2.4,2.73 0 0 1 602.3,212.80 M602.3,212.80 A2.4,2.72 0 0 1 602.3,218.25 M602.3,218.25 A2.4,2.73 0 0 1 602.3,223.70 M602.3,223.70 A2.4,2.72 0 0 1 602.3,229.15 M602.3,229.15 A2.4,2.73 0 0 1 602.3,234.60 M602.3,234.60 A2.4,2.72 0 0 1 602.3,240.05 M602.3,240.05 A2.4,2.72 0 0 1 602.3,245.50 M602.3,245.50 A2.4,2.73 0 0 1 602.3,250.95 M602.3,250.95 A2.4,2.72 0 0 1 602.3,256.40 M602.3,256.40 A2.4,2.73 0 0 1 602.3,261.85 M602.3,261.85 A2.4,2.72 0 0 1 602.3,267.30 M602.3,267.30 A2.4,2.72 0 0 1 602.3,272.75 M602.3,272.75 A2.4,2.72 0 0 1 602.3,278.20 M602.3,278.20 A2.4,2.72 0 0 1 602.3,283.65 M602.3,283.65 A2.4,2.73 0 0 1 602.3,289.10 M602.3,289.10 A2.4,2.72 0 0 1 602.3,294.55 M602.3,294.55 A2.4,2.72 0 0 1 602.3,300.00 " stroke-width="1.15"/>
<ellipse cx="600.0" cy="201.90" rx="2.7" ry="1.65" fill="#000" stroke="none"/>
<ellipse cx="600.0" cy="207.35" rx="2.7" ry="1.65" fill="#000" stroke="none"/>
<ellipse cx="600.0" cy="212.80" rx="2.7" ry="1.65" fill="#000" stroke="none"/>
<ellipse cx="600.0" cy="218.25" rx="2.7" ry="1.65" fill="#000" stroke="none"/>
<ellipse cx="600.0" cy="223.70" rx="2.7" ry="1.65" fill="#000" stroke="none"/>
<ellipse cx="600.0" cy="229.15" rx="2.7" ry="1.65" fill="#000" stroke="none"/>
<ellipse cx="600.0" cy="234.60" rx="2.7" ry="1.65" fill="#000" stroke="none"/>
<ellipse cx="600.0" cy="240.05" rx="2.7" ry="1.65" fill="#000" stroke="none"/>
<ellipse cx="600.0" cy="245.50" rx="2.7" ry="1.65" fill="#000" stroke="none"/>
<ellipse cx="600.0" cy="250.95" rx="2.7" ry="1.65" fill="#000" stroke="none"/>
<ellipse cx="600.0" cy="256.40" rx="2.7" ry="1.65" fill="#000" stroke="none"/>
<ellipse cx="600.0" cy="261.85" rx="2.7" ry="1.65" fill="#000" stroke="none"/>
<ellipse cx="600.0" cy="267.30" rx="2.7" ry="1.65" fill="#000" stroke="none"/>
<ellipse cx="600.0" cy="272.75" rx="2.7" ry="1.65" fill="#000" stroke="none"/>
<ellipse cx="600.0" cy="278.20" rx="2.7" ry="1.65" fill="#000" stroke="none"/>
<ellipse cx="600.0" cy="283.65" rx="2.7" ry="1.65" fill="#000" stroke="none"/>
<ellipse cx="600.0" cy="289.10" rx="2.7" ry="1.65" fill="#000" stroke="none"/>
<ellipse cx="600.0" cy="294.55" rx="2.7" ry="1.65" fill="#000" stroke="none"/>
<ellipse cx="600.0" cy="300.00" rx="2.7" ry="1.65" fill="#000" stroke="none"/>
<path d="M622.3,93.60 A2.4,2.66 0 0 0 622.3,98.93 M622.3,98.93 A2.4,2.66 0 0 0 622.3,104.26 M622.3,104.26 A2.4,2.66 0 0 0 622.3,109.59 M622.3,109.59 A2.4,2.66 0 0 0 622.3,114.92 M622.3,114.92 A2.4,2.67 0 0 0 622.3,120.25 M622.3,120.25 A2.4,2.66 0 0 0 622.3,125.58 M622.3,125.58 A2.4,2.66 0 0 0 622.3,130.91 M622.3,130.91 A2.4,3.70 0 0 0 622.3,138.30 " stroke-width="1.15"/>
<ellipse cx="624.4" cy="93.60" rx="2.7" ry="1.65" fill="#000" stroke="none"/>
<ellipse cx="624.4" cy="98.93" rx="2.7" ry="1.65" fill="#000" stroke="none"/>
<ellipse cx="624.4" cy="104.26" rx="2.7" ry="1.65" fill="#000" stroke="none"/>
<ellipse cx="624.4" cy="109.59" rx="2.7" ry="1.65" fill="#000" stroke="none"/>
<ellipse cx="624.4" cy="114.92" rx="2.7" ry="1.65" fill="#000" stroke="none"/>
<ellipse cx="624.4" cy="120.25" rx="2.7" ry="1.65" fill="#000" stroke="none"/>
<ellipse cx="624.4" cy="125.58" rx="2.7" ry="1.65" fill="#000" stroke="none"/>
<ellipse cx="624.4" cy="130.91" rx="2.7" ry="1.65" fill="#000" stroke="none"/>
<path d="M622.3,138.30 A2.4,3.50 0 0 0 622.3,145.30 M622.3,145.30 A2.4,2.73 0 0 0 622.3,150.76 M622.3,150.76 A2.4,2.73 0 0 0 622.3,156.22 M622.3,156.22 A2.4,2.73 0 0 0 622.3,161.68 M622.3,161.68 A2.4,2.73 0 0 0 622.3,167.14 M622.3,167.14 A2.4,2.73 0 0 0 622.3,172.60 M622.3,172.60 A2.4,2.73 0 0 0 622.3,178.06 M622.3,178.06 A2.4,2.73 0 0 0 622.3,183.52 M622.3,183.52 A2.4,3.19 0 0 0 622.3,189.90 " stroke-width="1.15"/>
<ellipse cx="624.4" cy="145.30" rx="2.7" ry="1.65" fill="#000" stroke="none"/>
<ellipse cx="624.4" cy="150.76" rx="2.7" ry="1.65" fill="#000" stroke="none"/>
<ellipse cx="624.4" cy="156.22" rx="2.7" ry="1.65" fill="#000" stroke="none"/>
<ellipse cx="624.4" cy="161.68" rx="2.7" ry="1.65" fill="#000" stroke="none"/>
<ellipse cx="624.4" cy="167.14" rx="2.7" ry="1.65" fill="#000" stroke="none"/>
<ellipse cx="624.4" cy="172.60" rx="2.7" ry="1.65" fill="#000" stroke="none"/>
<ellipse cx="624.4" cy="178.06" rx="2.7" ry="1.65" fill="#000" stroke="none"/>
<ellipse cx="624.4" cy="183.52" rx="2.7" ry="1.65" fill="#000" stroke="none"/>
<path d="M622.3,189.90 A2.4,3.25 0 0 0 622.3,196.40 M622.3,196.40 A2.4,2.72 0 0 0 622.3,201.85 M622.3,201.85 A2.4,2.73 0 0 0 622.3,207.30 M622.3,207.30 A2.4,2.72 0 0 0 622.3,212.75 M622.3,212.75 A2.4,2.73 0 0 0 622.3,218.20 M622.3,218.20 A2.4,2.72 0 0 0 622.3,223.65 M622.3,223.65 A2.4,2.73 0 0 0 622.3,229.10 M622.3,229.10 A2.4,2.72 0 0 0 622.3,234.55 M622.3,234.55 A2.4,2.72 0 0 0 622.3,240.00 M622.3,240.00 A2.4,2.73 0 0 0 622.3,245.45 M622.3,245.45 A2.4,2.72 0 0 0 622.3,250.90 M622.3,250.90 A2.4,2.73 0 0 0 622.3,256.35 M622.3,256.35 A2.4,2.72 0 0 0 622.3,261.80 M622.3,261.80 A2.4,2.72 0 0 0 622.3,267.25 M622.3,267.25 A2.4,2.72 0 0 0 622.3,272.70 M622.3,272.70 A2.4,2.72 0 0 0 622.3,278.15 M622.3,278.15 A2.4,2.73 0 0 0 622.3,283.60 M622.3,283.60 A2.4,2.72 0 0 0 622.3,289.05 M622.3,289.05 A2.4,2.72 0 0 0 622.3,294.50 M622.3,294.50 A2.4,2.72 0 0 0 622.3,299.95 " stroke-width="1.15"/>
<ellipse cx="624.4" cy="196.40" rx="2.7" ry="1.65" fill="#000" stroke="none"/>
<ellipse cx="624.4" cy="201.85" rx="2.7" ry="1.65" fill="#000" stroke="none"/>
<ellipse cx="624.4" cy="207.30" rx="2.7" ry="1.65" fill="#000" stroke="none"/>
<ellipse cx="624.4" cy="212.75" rx="2.7" ry="1.65" fill="#000" stroke="none"/>
<ellipse cx="624.4" cy="218.20" rx="2.7" ry="1.65" fill="#000" stroke="none"/>
<ellipse cx="624.4" cy="223.65" rx="2.7" ry="1.65" fill="#000" stroke="none"/>
<ellipse cx="624.4" cy="229.10" rx="2.7" ry="1.65" fill="#000" stroke="none"/>
<ellipse cx="624.4" cy="234.55" rx="2.7" ry="1.65" fill="#000" stroke="none"/>
<ellipse cx="624.4" cy="240.00" rx="2.7" ry="1.65" fill="#000" stroke="none"/>
<ellipse cx="624.4" cy="245.45" rx="2.7" ry="1.65" fill="#000" stroke="none"/>
<ellipse cx="624.4" cy="250.90" rx="2.7" ry="1.65" fill="#000" stroke="none"/>
<ellipse cx="624.4" cy="256.35" rx="2.7" ry="1.65" fill="#000" stroke="none"/>
<ellipse cx="624.4" cy="261.80" rx="2.7" ry="1.65" fill="#000" stroke="none"/>
<ellipse cx="624.4" cy="267.25" rx="2.7" ry="1.65" fill="#000" stroke="none"/>
<ellipse cx="624.4" cy="272.70" rx="2.7" ry="1.65" fill="#000" stroke="none"/>
<ellipse cx="624.4" cy="278.15" rx="2.7" ry="1.65" fill="#000" stroke="none"/>
<ellipse cx="624.4" cy="283.60" rx="2.7" ry="1.65" fill="#000" stroke="none"/>
<ellipse cx="624.4" cy="289.05" rx="2.7" ry="1.65" fill="#000" stroke="none"/>
<ellipse cx="624.4" cy="294.50" rx="2.7" ry="1.65" fill="#000" stroke="none"/>
<ellipse cx="624.4" cy="299.95" rx="2.7" ry="1.65" fill="#000" stroke="none"/>
<path d="M584.7,196.6 L602.3,196.6" stroke-width="1.4" />
<circle cx="575.00" cy="196.80" r="9.70" stroke-width="1.5" fill="#fff"/>
<text x="0" y="0" stroke="#000" stroke-width="0.35" fill="#000" font-size="15.2" font-family="Liberation Sans" text-anchor="middle" transform="translate(574.7 201.3) scale(0.72,1)">A</text>
<path d="M578.7,193 L583.3,193 M581,190.7 L581,195.3" stroke-width="0.9" />
<path d="M623,93.6 L621.9,91.5 Q621.3,87.8 625,87.5 L697.3,87.5 L697.3,175" stroke-width="1.4" />
<path d="M679.4,79.8 L679.4,87.5" stroke-width="1.4" />
<circle cx="679.40" cy="70.00" r="9.75" stroke-width="1.3" fill="#fff"/>
<text x="0" y="0" stroke="#000" stroke-width="0.2" fill="#000" font-size="8.8" text-anchor="middle" font-family="Liberation Serif" font-weight="normal" transform="translate(679.90 73.10) scale(1.08,1)" >F.B</text>
<text x="0" y="0" stroke="#000" stroke-width="0.2" fill="#000" font-size="8.6" text-anchor="start" font-family="Liberation Serif" font-weight="normal" transform="translate(634.60 84.00) scale(1.08,1)" >16</text>
<path d="M647.50,83.60 Q646.50,80.70 647.10,79.10 Q647.80,77.30 649.20,77.30 Q650.60,77.30 651.30,79.10 Q651.90,80.70 650.90,83.60" stroke-width="1.05" />
<path d="M622.3,138.3 L680.8,138.3 L680.8,175" stroke-width="1.4" />
<text x="0" y="0" stroke="#000" stroke-width="0.2" fill="#000" font-size="8.6" text-anchor="start" font-family="Liberation Serif" font-weight="normal" transform="translate(639.20 134.40) scale(1.08,1)" >8</text>
<path d="M647.60,134.20 Q646.60,131.30 647.20,129.70 Q647.90,127.90 649.30,127.90 Q650.70,127.90 651.40,129.70 Q652.00,131.30 651.00,134.20" stroke-width="1.05" />
<path d="M622.3,189.9 L666,189.9" stroke-width="1.4" />
<text x="0" y="0" stroke="#000" stroke-width="0.2" fill="#000" font-size="8.6" text-anchor="start" font-family="Liberation Serif" font-weight="normal" transform="translate(639.00 187.60) scale(1.08,1)" >4</text>
<path d="M647.60,187.30 Q646.60,184.40 647.20,182.80 Q647.90,181.00 649.30,181.00 Q650.70,181.00 651.40,182.80 Q652.00,184.40 651.00,187.30" stroke-width="1.05" />
<path d="M623,300 L621.9,302.5 Q621.3,306.3 625,306.6 L662,306.6" stroke-width="1.4" />
<circle cx="680.80" cy="178.40" r="3.20" stroke-width="1.1" fill="#fff"/>
<circle cx="669.40" cy="190.00" r="3.20" stroke-width="1.1" fill="#fff"/>
<circle cx="669.40" cy="205.60" r="3.20" stroke-width="1.1" fill="#fff"/>
<circle cx="708.80" cy="190.00" r="3.20" stroke-width="1.1" fill="#fff"/>
<circle cx="708.80" cy="205.60" r="3.20" stroke-width="1.1" fill="#fff"/>
<circle cx="697.60" cy="217.80" r="3.20" stroke-width="1.1" fill="#fff"/>
<path d="M681.6,217.8 L697.3,178.2" stroke-width="2.3" />
<circle cx="697.3" cy="178.2" r="3.6" fill="#000" stroke="none"/>
<circle cx="681.6" cy="217.8" r="3.6" fill="#000" stroke="none"/>
<circle cx="689.6" cy="197.7" r="3.0" fill="#000" stroke="none"/>
<path d="M689.5,197.7 L689.5,275.2 L710,275.2 L713.6,280.6 L717,275.2" stroke-width="1.4" />
<path d="M689.5,238.6 L710,238.6 L713.6,244 L717,238.6" stroke-width="1.4" />
<path d="M662,258.3 L662,326.4" stroke-width="1.4" />
<path d="M652.60,326.40 L672.50,326.40" stroke-width="1.6" />
<path d="M653.20,326.40 L650.10,329.50" stroke-width="1.4" />
<path d="M656.98,326.40 L653.88,329.50" stroke-width="1.4" />
<path d="M660.76,326.40 L657.66,329.50" stroke-width="1.4" />
<path d="M664.54,326.40 L661.44,329.50" stroke-width="1.4" />
<path d="M668.32,326.40 L665.22,329.50" stroke-width="1.4" />
<path d="M672.10,326.40 L669.00,329.50" stroke-width="1.4" />
<path d="M662,258.3 L686.8,258.3 A2.9,2.6 0 0 1 692.6,258.3 L728,258.3 L732.4,252.8 L735.8,257.8" stroke-width="1.4" />
<path d="M662,295.1 L728,295.1 L732.4,290.2 L736,295.4" stroke-width="1.4" />
<rect x="738.10" y="239.50" width="5.00" height="17.30" stroke-width="1.45" fill="#fff"/>
<rect x="738.7" y="240.1" width="3.8" height="2.4" fill="#bbb" stroke="none"/>
<rect x="738.7" y="253.60000000000002" width="3.8" height="2.4" fill="#ccc" stroke="none"/>
<path d="M738.10,243.10 L743.10,243.10" stroke-width="1.2" />
<path d="M738.10,252.80 L743.10,252.80" stroke-width="1.2" />
<rect x="738.10" y="276.30" width="5.00" height="18.10" stroke-width="1.45" fill="#fff"/>
<rect x="738.7" y="276.90000000000003" width="3.8" height="2.4" fill="#bbb" stroke="none"/>
<rect x="738.7" y="291.2" width="3.8" height="2.4" fill="#ccc" stroke="none"/>
<path d="M738.10,279.90 L743.10,279.90" stroke-width="1.2" />
<path d="M738.10,290.40 L743.10,290.40" stroke-width="1.2" />
<text x="0" y="0" stroke="#000" stroke-width="0.2" fill="#000" font-size="9.4" text-anchor="start" font-family="Liberation Serif" font-weight="normal" transform="translate(705.00 310.20)" >SPEAKER</text>
</g>
<rect x="507.8" y="414.2" width="236.4" height="72.2" rx="4" fill="none" stroke="#000" stroke-width="2.6" stroke-dasharray="2.6,2.65"/>
<text x="515.7" y="433.8" font-family="Liberation Serif" font-weight="bold" font-size="16.5" textLength="61.8" lengthAdjust="spacingAndGlyphs" stroke="#000" stroke-width="0.7">ORANGE</text>
<path d="M535.5,433.5 Q536.5,437.5 538.6,436.6" fill="none" stroke="#000" stroke-width="1.2"/><circle cx="538.4" cy="436.4" r="1.9" fill="#000"/>
<path d="M566.5,433.5 Q566,437.5 564,437" fill="none" stroke="#000" stroke-width="1.2"/><circle cx="564.4" cy="436.8" r="1.9" fill="#000"/>
<path d="M603.5,433.5 Q604.5,437 607,436.2" fill="none" stroke="#000" stroke-width="1.2"/><circle cx="607.2" cy="436" r="1.9" fill="#000"/>
<text x="588.9" y="433.6" font-family="Liberation Serif" font-weight="bold" font-size="16.5" textLength="43.9" lengthAdjust="spacingAndGlyphs" stroke="#000" stroke-width="0.6">OR120</text>
<text x="642.2" y="434.2" font-family="Liberation Sans" font-weight="bold" font-size="18" textLength="96.3" lengthAdjust="spacingAndGlyphs" stroke="#000" stroke-width="0.5">GRAPHIC MkII</text>
<text x="527.8" y="458.3" font-family="Liberation Sans" font-weight="bold" font-size="16.5" textLength="82" lengthAdjust="spacingAndGlyphs" stroke="#000" stroke-width="0.5">Early 1970's</text>
<text x="642.2" y="457.9" font-family="Liberation Sans" font-weight="bold" font-size="16.3" textLength="84.2" lengthAdjust="spacingAndGlyphs" stroke="#000" stroke-width="0.5">Output - amp</text>
<text x="517.2" y="472.9" font-family="Liberation Serif" font-size="8.4" textLength="52.4" lengthAdjust="spacingAndGlyphs" stroke="#000" stroke-width="0.25">Scematics from</text>
<text x="603.9" y="472.9" font-family="Liberation Serif" font-size="8.4" stroke="#000" stroke-width="0.25">1972</text>
<text x="641.2" y="472.9" font-family="Liberation Serif" font-size="8.4" textLength="92.2" lengthAdjust="spacingAndGlyphs" stroke="#000" stroke-width="0.25">Drawn by B.Hickmott 2004</text>
<path d="M573.2,481.5 L580.4,467.2 M576.8,479.8 L584.7,466.5 M582.6,470 Q585,467.5 587,469.5 Q589,467.5 591,470 Q593,468 595,470.3 Q596,469 597.2,470.8" fill="none" stroke="#000" stroke-width="1.3"/>
</svg></body></html>
